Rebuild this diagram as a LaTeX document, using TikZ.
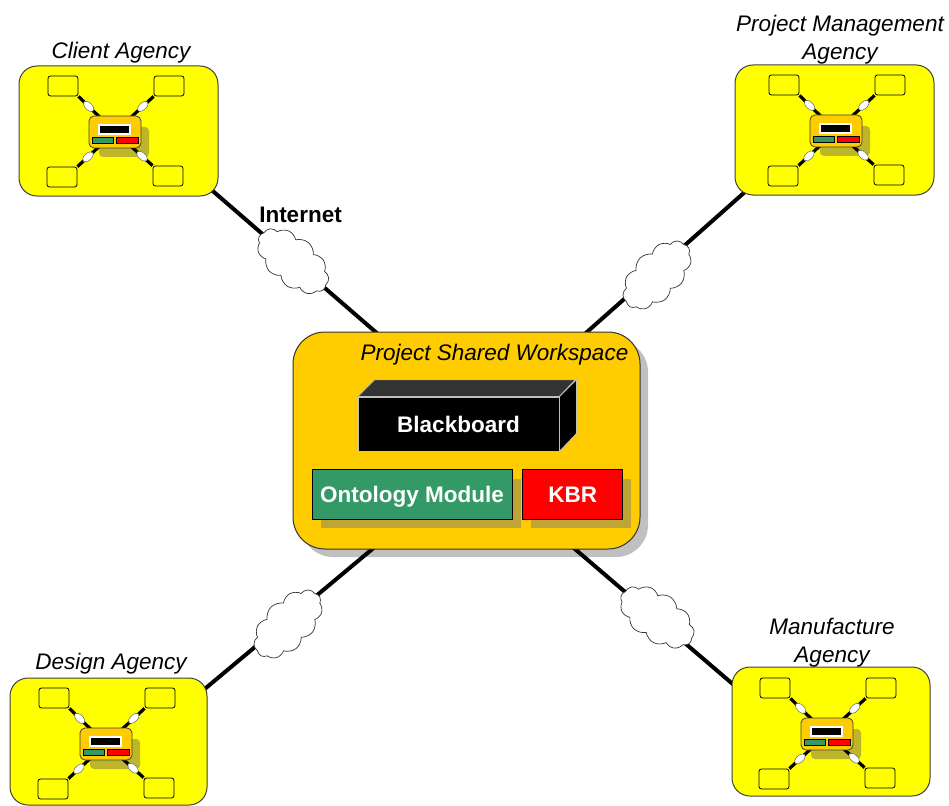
\documentclass[tikz,border=0pt]{standalone}
\usepackage{fontspec}
\setmainfont{Liberation Sans}
\usetikzlibrary{positioning}
\usetikzlibrary{shapes.geometric, shapes.symbols, backgrounds}
\definecolor{agencyyellow}{HTML}{FFFF00}
\definecolor{modred}{HTML}{FF0000}
\definecolor{hubgold}{HTML}{FFCC00}
\definecolor{ontgreen}{HTML}{339966}
\definecolor{wsshadow}{HTML}{C0C0C0}
\definecolor{goldshadow}{HTML}{BFA436}
\definecolor{minishadow}{HTML}{BDB52A}
\tikzstyle{labeltext} = [font=\fontsize{22.5}{28}\selectfont\itshape,align=center,inner sep=0pt]
\tikzstyle{boldtext} = [font=\fontsize{22.5}{28}\selectfont\bfseries,inner sep=0pt,text height=16pt,text depth=0pt]
\tikzstyle{agencybox} = [draw=black!75,line width=1pt,fill=agencyyellow,rounded corners=18pt,inner sep=0pt,minimum width=199pt,minimum height=130pt]
\tikzstyle{wsbox} = [rounded corners=32pt,inner sep=0pt,minimum width=347pt,minimum height=217pt]
\tikzstyle{modbox} = [draw=black,line width=0.8pt,inner sep=0pt,minimum height=50pt,text=white]
\tikzstyle{link} = [line width=4pt,shorten >=-8pt,shorten <=-8pt]
\tikzstyle{netcloud} = [cloud,cloud puffs=11,cloud puff arc=110,aspect=1.7,draw=black!80,fill=white,line width=0.7pt,inner sep=0pt,minimum width=84pt,minimum height=48pt]
\tikzstyle{minibox} = [draw=black,line width=0.8pt,fill=agencyyellow,rounded corners=2.5pt,inner sep=0pt,minimum width=30pt,minimum height=20pt]
\tikzset{
  pics/minihub/.style={code={
    %Shadow and satellites
    \fill[minishadow,rounded corners=4pt] (-16,-5) rectangle (34,25);
    \coordinate (-c) at (0,0);
    \foreach \b/\a/\bx/\by in {tl/south east/-52/-46,tr/south west/54/-46,bl/north east/-53/45,br/north west/53/44}{
      \node (-\b) [minibox] at (\bx,\by) {};
      \draw[line width=3.2pt] (-\b.\a) -- (-c) node (-\b m) [pos=0.28,sloped,ellipse,draw=black!60,fill=white,line width=0.5pt,inner sep=0pt,minimum width=13pt,minimum height=7pt] {};
    }
    %Hub
    \node (-hub) [draw=black!75,line width=0.8pt,fill=hubgold,rounded corners=5pt,inner sep=0pt,minimum width=52pt,minimum height=32pt] at (0,0) {};
    \node (-board) [draw=white,line width=1.2pt,fill=black,inner sep=0pt,minimum width=31pt,minimum height=9pt] at (-0.5,-2.5) {};
    \node (-ont) [draw=black,line width=0.6pt,fill=ontgreen,inner sep=0pt,minimum width=21pt,minimum height=6pt] at (-12.5,8) {};
    \node (-kbr) [draw=black,line width=0.6pt,fill=modred,inner sep=0pt,minimum width=22pt,minimum height=6pt] at (12,8) {};
  }}
}

\begin{document}
\begin{tikzpicture}[x=1pt,y=-1pt]
	\useasboundingbox (0,0) rectangle (949,805);
	%Nodes
	\node (client) [agencybox] at (118.5,131) {};
	\node (pma) [agencybox] at (834.5,130) {};
	\node (design) [agencybox,minimum width=197pt,minimum height=127pt] at (108.5,741.5) {};
	\node (manufacture) [agencybox,minimum width=198pt,minimum height=129pt] at (831,731.5) {};

	\node (clientlabel) [labeltext] at (121,53) {Client Agency};
	\node (pmalabel) [labeltext] at (840,39.5) {Project Management\\Agency};
	\node (designlabel) [labeltext] at (111,664) {Design Agency};
	\node (manufacturelabel) [labeltext] at (832,643) {Manufacture\\Agency};

	\pic (clienthub) at (115,132) {minihub};
	\pic (pmahub) at (836,131) {minihub};
	\pic (designhub) at (106,744) {minihub};
	\pic (manufacturehub) at (827,734) {minihub};

	\node (ws) [wsbox,draw=black!80,line width=1pt,fill=hubgold] at (466.5,440.5) {};
	\node (wstitle) [labeltext,below left=12pt and 12pt of ws.north east] {Project Shared Workspace};

	\node (board) [draw=black!25,line width=0.8pt,fill=black,text=white,boldtext,minimum width=201pt,minimum height=54pt] at (458.5,424) {Blackboard};
	\draw[draw=black!25,line width=0.8pt,fill=black!80] (board.north west) -- ++(17,-17) -- ++(201,0) -- (board.north east) -- cycle;
	\draw[draw=black!25,line width=0.8pt,fill=black] (board.north east) -- ++(17,-17) -- ++(0,54) -- (board.south east) -- cycle;

	\fill[goldshadow] (321,479) rectangle (521,528);
	\fill[goldshadow] (531,479) rectangle (631,528);
	\node (onto) [modbox,boldtext,fill=ontgreen,minimum width=200pt,minimum height=50pt] at (412,494) {Ontology Module};
	\node (kbr) [modbox,boldtext,fill=modred,minimum width=100pt,minimum height=50pt,right=10pt of onto] {KBR};

	\node (cloud1) [netcloud,rotate=-40] at (293,261) {};
	\node (cloud2) [netcloud,rotate=45] at (657,275) {};
	\node (cloud3) [netcloud,rotate=45] at (288,624) {};
	\node (cloud4) [netcloud,rotate=-35] at (657,617) {};
	\node (internet) [boldtext] at (300.5,214) {Internet};

	%Lines
	\begin{pgfonlayer}{background}
		\node (wsback) [wsbox,fill=wsshadow] at ([shift={(8,8)}]ws.center) {};
		\draw[link] (client.-33.8) -- (ws.130.5);
		\draw[link] (pma.215.4) -- (ws.42.2);
		\draw[link] (design.29) -- (ws.229.5);
		\draw[link] (manufacture.154) -- (ws.-45.2);
	\end{pgfonlayer}
\end{tikzpicture}
\end{document}
